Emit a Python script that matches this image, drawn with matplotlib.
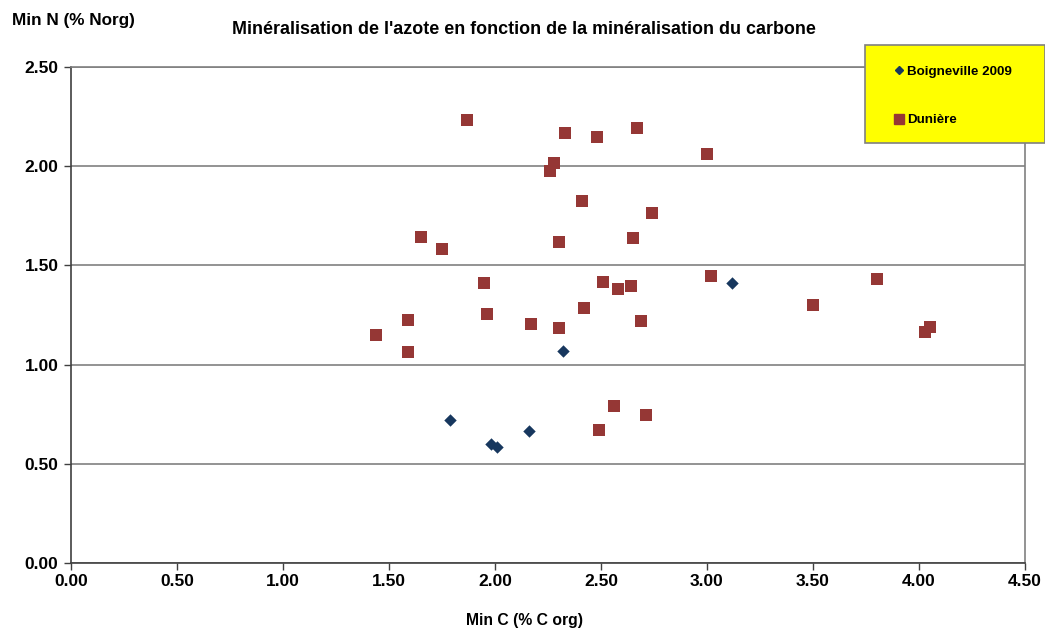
import matplotlib
matplotlib.use("Agg")
import matplotlib.pyplot as plt
from matplotlib.lines import Line2D
from matplotlib.patches import Rectangle

plt.rcParams['font.family'] = ['Liberation Sans', 'DejaVu Sans']
plt.rcParams['font.weight'] = 'bold'

title = "Minéralisation de l'azote en fonction de la minéralisation du carbone"
xlabel = "Min C (% C org)"
ylabel = "Min N (% Norg)"

boig_name = "Boigneville 2009"
boig_x = [1.79, 1.98, 2.01, 2.16, 2.32, 3.12]
boig_y = [0.72, 0.60, 0.585, 0.665, 1.068, 1.41]

dun_name = "Dunière"
dun_x = [1.44, 1.59, 1.59, 1.65, 1.75, 1.87, 1.95, 1.96, 2.17, 2.26, 2.28, 2.30,
         2.30, 2.33, 2.41, 2.42, 2.48, 2.49, 2.51, 2.56, 2.58, 2.64, 2.65, 2.67,
         2.69, 2.71, 2.74, 3.00, 3.02, 3.50, 3.80, 4.03, 4.05]
dun_y = [1.15, 1.225, 1.063, 1.643, 1.583, 2.233, 1.411, 1.255, 1.205, 1.976, 2.016, 1.618,
         1.184, 2.167, 1.824, 1.285, 2.147, 0.670, 1.416, 0.791, 1.381, 1.396, 1.638, 2.193,
         1.220, 0.746, 1.764, 2.061, 1.447, 1.300, 1.431, 1.164, 1.190]

xticks = [0.0, 0.5, 1.0, 1.5, 2.0, 2.5, 3.0, 3.5, 4.0, 4.5]
yticks = [0.0, 0.5, 1.0, 1.5, 2.0, 2.5]

blue = '#17375E'
red = '#953735'

fig = plt.figure(figsize=(10.45, 6.32), dpi=100)
ax = fig.add_axes([71/1045, 1-563/632, (1025-71)/1045, (563-67)/632])

ax.scatter(dun_x, dun_y, marker='s', s=85, color=red, zorder=3, linewidths=0)
ax.scatter(boig_x, boig_y, marker='D', s=40, color=blue, zorder=4, linewidths=0)

ax.set_xlim(0, 4.5)
ax.set_ylim(0, 2.5)
ax.set_xticks(xticks)
ax.set_yticks(yticks)
ax.set_xticklabels([f"{v:.2f}" for v in xticks], fontsize=12.5, fontweight='bold')
ax.set_yticklabels([f"{v:.2f}" for v in yticks], fontsize=12.5, fontweight='bold')
ax.yaxis.grid(True, color='#808080', linewidth=1.2)
ax.set_axisbelow(True)
for s in ['top', 'right']:
    ax.spines[s].set_color('#808080')
    ax.spines[s].set_linewidth(1.2)
for s in ['left', 'bottom']:
    ax.spines[s].set_color('#404040')
    ax.spines[s].set_linewidth(1.2)
ax.tick_params(direction='out', length=5, width=1, color='#404040')
ax.tick_params(axis='x', pad=3)
ax.tick_params(axis='y', pad=4)

fig.text(524/1045, 1-30/632, title, ha='center', va='center', fontsize=12.9, fontweight='bold')
fig.text(12/1045, 1-21/632, ylabel, ha='left', va='center', fontsize=12.3, fontweight='bold')
fig.text(525/1045, 1-620/632, xlabel, ha='center', va='center', fontsize=11.3, fontweight='bold')

# legend box
fig.patches.append(Rectangle((865/1045, 1-143/632), 180/1045, 98/632, transform=fig.transFigure,
                             facecolor='#FFFF00', edgecolor='#808080', linewidth=1.2, zorder=5))
handles = [Line2D([], [], marker='D', color=blue, linestyle='None', markersize=4),
           Line2D([], [], marker='s', color=red, linestyle='None', markersize=6.5)]
leg = fig.legend(handles, [boig_name, dun_name], loc='upper left',
                 bbox_to_anchor=(888/1045, 1-59/632), frameon=False, fontsize=9.6,
                 handlelength=0.6, handletextpad=0.3, labelspacing=2.7, borderpad=0)
leg.set_zorder(6)
for t in leg.get_texts():
    t.set_fontweight('bold')

fig.savefig('out.png', dpi=100)
